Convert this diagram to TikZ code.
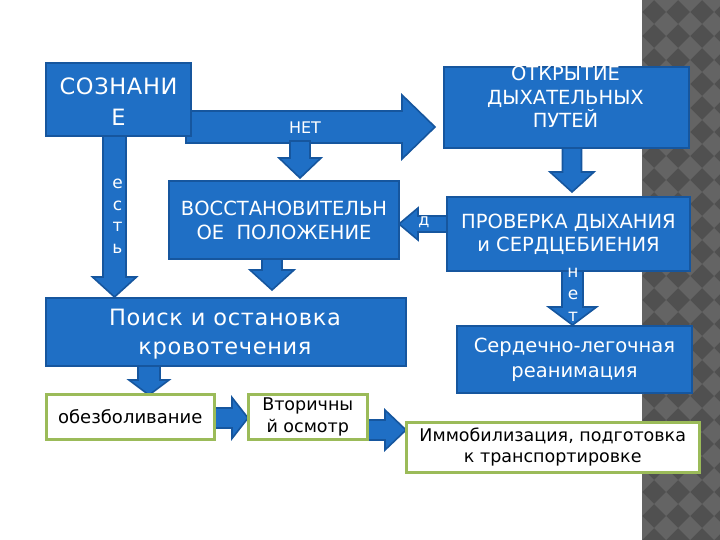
\documentclass[tikz,border=0pt]{standalone}
\usepackage{fontspec}
\setmainfont{DejaVu Sans}
\newfontfamily\sozfont[LetterSpace=3]{DejaVu Sans}
\newfontfamily\poifont[LetterSpace=3]{DejaVu Sans}
\definecolor{bfill}{RGB}{31,111,197}
\definecolor{bline}{RGB}{22,86,158}
\definecolor{gline}{RGB}{155,187,89}
\definecolor{pdark}{RGB}{80,80,80}
\definecolor{plight}{RGB}{100,100,100}
\tikzset{
  bbox/.style={draw=bline, fill=bfill, line width=2pt, text=white, align=center, inner sep=0pt, anchor=north west},
  wbox/.style={draw=gline, fill=white, line width=2.5pt, text=black, align=center, inner sep=0pt, anchor=north west},
  barrow/.style={draw=bline, fill=bfill, line width=1.6pt, line join=miter},
  atext/.style={text=white, inner sep=0pt, align=center},
}
% vertical down block arrow: x, ytop, ytip, shaft half width, head half width, head length
\newcommand\BlockDown[6]{\filldraw[barrow] (#1-#4,#2) -- (#1-#4,#3-#6) -- (#1-#5,#3-#6) -- (#1,#3) -- (#1+#5,#3-#6) -- (#1+#4,#3-#6) -- (#1+#4,#2) -- cycle;}
% horizontal right block arrow: y, xstart, xtip, shaft half, head half, head length
\newcommand\BlockRight[6]{\filldraw[barrow] (#2,#1-#4) -- (#3-#6,#1-#4) -- (#3-#6,#1-#5) -- (#3,#1) -- (#3-#6,#1+#5) -- (#3-#6,#1+#4) -- (#2,#1+#4) -- cycle;}
% horizontal left block arrow
\newcommand\BlockLeft[6]{\filldraw[barrow] (#2,#1-#4) -- (#3+#6,#1-#4) -- (#3+#6,#1-#5) -- (#3,#1) -- (#3+#6,#1+#5) -- (#3+#6,#1+#4) -- (#2,#1+#4) -- cycle;}
\begin{document}
\begin{tikzpicture}[x=1pt,y=-1pt]
\useasboundingbox (0,0) rectangle (720,540);
% patterned strip
\begin{scope}
  \clip (642,0) rectangle (720,540);
  \fill[pdark] (642,0) rectangle (720,540);
  \foreach \i in {0,...,4}{
    \foreach \j in {0,...,23}{
      \fill[plight] (642+\i*24-12,\j*24) -- (642+\i*24,\j*24-12) -- (642+\i*24+12,\j*24) -- (642+\i*24,\j*24+12) -- cycle;
    }
  }
\end{scope}

% block arrows
\BlockRight{127}{186}{435}{16}{32}{33}
\BlockDown{300}{141}{178}{10}{21}{20}
\BlockDown{114.5}{134}{297}{11.5}{22}{20}
\BlockDown{272}{257}{290}{10}{22}{20}
\BlockDown{572}{146}{192}{9.5}{22}{20}
\BlockLeft{224}{447}{399}{8}{16}{19}
\BlockDown{572.5}{269}{325}{10.5}{24}{18}
\BlockDown{149}{364}{395}{11}{20}{15}
\BlockRight{418}{212}{248}{10}{20.5}{16}
\BlockRight{430}{365}{406}{10}{20}{21}

% blue boxes
\node[bbox, minimum width=145pt, minimum height=73pt] (soz) at (45,62) {};
\node[atext, font=\sozfont\fontsize{22.5}{31}\selectfont] (sozt) at (118.5,102) {СОЗНАНИ\\Е};
\node[bbox, minimum width=245pt, minimum height=81pt] (otk) at (443,66) {};
\begin{scope}
  \clip (444,67) rectangle (687,146);
  \node[atext, font=\fontsize{19.5}{23.5}\selectfont] (otkt) at (565.5,97) {ОТКРЫТИЕ\\ДЫХАТЕЛЬНЫХ\\ПУТЕЙ};
\end{scope}
\node[bbox, minimum width=230pt, minimum height=78pt, font=\fontsize{19.5}{24}\selectfont] (vos) at (168,180) {ВОССТАНОВИТЕЛЬН\\ОЕ~ ПОЛОЖЕНИЕ};
\node[bbox, minimum width=243pt, minimum height=74pt, font=\fontsize{19.5}{23}\selectfont] (pro) at (446,196) {ПРОВЕРКА ДЫХАНИЯ\\и СЕРДЦЕБИЕНИЯ};
\node[bbox, minimum width=360pt, minimum height=68pt] (poi) at (45,297) {};
\node[atext, font=\poifont\fontsize{22.5}{29}\selectfont] (poit) at (225,334) {Поиск и остановка\\кровотечения};
\node[bbox, minimum width=235pt, minimum height=67pt, font=\fontsize{19.5}{25}\selectfont] (ser) at (456,325) {Сердечно-легочная\\реанимация};

% white boxes
\node[wbox, minimum width=168pt, minimum height=45pt, font=\fontsize{18}{22}\selectfont] (obe) at (45,393) {обезболивание};
\node[wbox, minimum width=119pt, minimum height=45pt, font=\fontsize{17.5}{22}\selectfont] (vto) at (247,393) {Вторичны\\й осмотр};
\node[wbox, minimum width=293pt, minimum height=50pt, font=\fontsize{17.5}{21}\selectfont] (imm) at (405,421) {Иммобилизация, подготовка\\к транспортировке};

% arrow labels
\node[atext, font=\fontsize{16}{20}\selectfont] (net1) at (305,128) {НЕТ};
\node[atext, font=\fontsize{17}{21.5}\selectfont] (est) at (117.5,216) {е\\с\\т\\ь};
\node[atext, font=\fontsize{17}{22}\selectfont] (net2) at (573,295) {н\\е\\т};
\begin{scope}
  \clip (410,205) rectangle (440,238);
  \node[atext, font=\fontsize{16}{18}\selectfont] (da) at (424,230) {д\\а};
\end{scope}
\end{tikzpicture}
\end{document}
